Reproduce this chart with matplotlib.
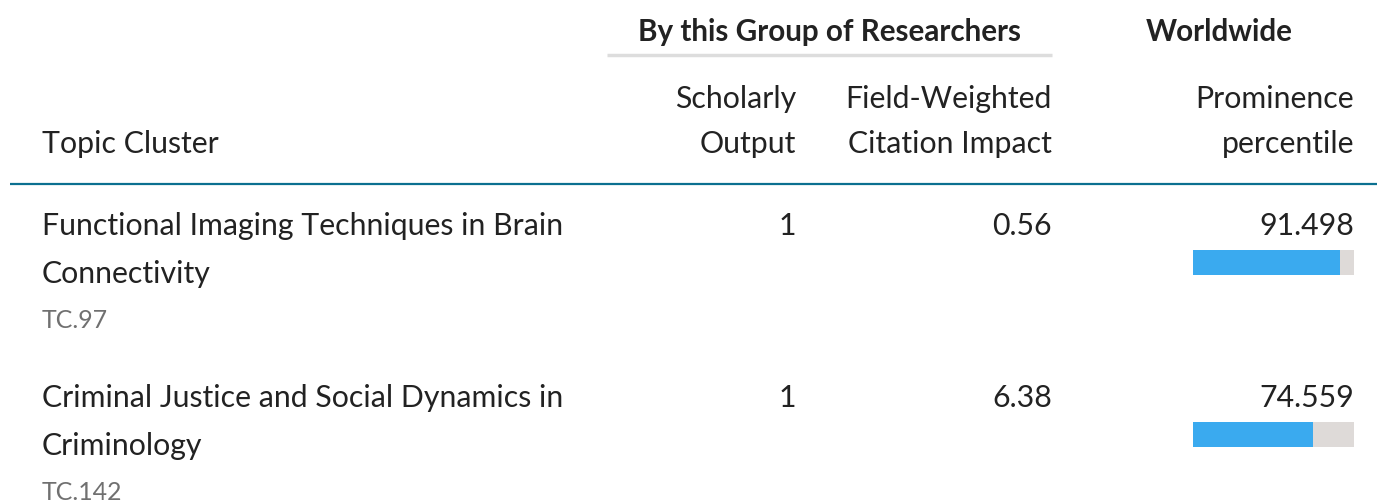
import matplotlib.pyplot as plt
from matplotlib.patches import Rectangle

# data
topics = [["Functional Imaging Techniques in Brain", "Connectivity"],
          ["Criminal Justice and Social Dynamics in", "Criminology"]]
topic_ids = ["TC.97", "TC.142"]
scholarly_output = [1, 1]
fwci = [0.56, 6.38]
prominence = [91.498, 74.559]

W, H = 1377, 501
fig = plt.figure(figsize=(W / 100, H / 100), dpi=100)
ax = fig.add_axes([0, 0, 1, 1])
ax.set_xlim(0, W)
ax.set_ylim(H, 0)
ax.axis("off")

plt.rcParams["font.family"] = ["Lato", "DejaVu Sans"]
fs = 21.8
txt = "#222222"
dy = 2

# header
ax.text(829, 30 + dy, "By this Group of Researchers", ha="center", va="center",
        fontsize=21.3, fontweight="bold", color=txt)
ax.text(1219, 30 + dy, "Worldwide", ha="center", va="center",
        fontsize=21.3, fontweight="bold", color=txt)
ax.plot([607, 1052], [55, 55], color="#dddddd", lw=2.5, solid_capstyle="butt")

ax.text(42, 142 + dy, "Topic Cluster", ha="left", va="center", fontsize=fs, color=txt)
for x, (l1, l2) in zip([796, 1052, 1354],
                       [("Scholarly", "Output"), ("Field-Weighted", "Citation Impact"),
                        ("Prominence", "percentile")]):
    ax.text(x, 97 + dy, l1, ha="right", va="center", fontsize=fs, color=txt)
    ax.text(x, 142 + dy, l2, ha="right", va="center", fontsize=fs, color=txt)

ax.plot([10, W], [184, 184], color="#0b7090", lw=1.6, solid_capstyle="butt")

# rows
row_y = [224, 396]
bar_x0, bar_w, bar_h = 1193, 161, 25
for i, y in enumerate(row_y):
    ax.text(42, y + dy, topics[i][0], ha="left", va="center", fontsize=fs, color=txt)
    ax.text(42, y + 48 + dy, topics[i][1], ha="left", va="center", fontsize=fs, color=txt)
    ax.text(42, y + 94 + dy, topic_ids[i], ha="left", va="center", fontsize=17.9, color="#707070")
    ax.text(796, y + dy, f"{scholarly_output[i]}", ha="right", va="center", fontsize=fs, color=txt)
    ax.text(1052, y + dy, f"{fwci[i]:.2f}", ha="right", va="center", fontsize=fs, color=txt)
    ax.text(1354, y + dy, f"{prominence[i]:.3f}", ha="right", va="center", fontsize=fs, color=txt)
    by = y + 26
    ax.add_patch(Rectangle((bar_x0, by), bar_w, bar_h, color="#dedad8", lw=0))
    ax.add_patch(Rectangle((bar_x0, by), bar_w * prominence[i] / 100, bar_h,
                           color="#3aaaef", lw=0))

fig.savefig("out.png", dpi=100)
